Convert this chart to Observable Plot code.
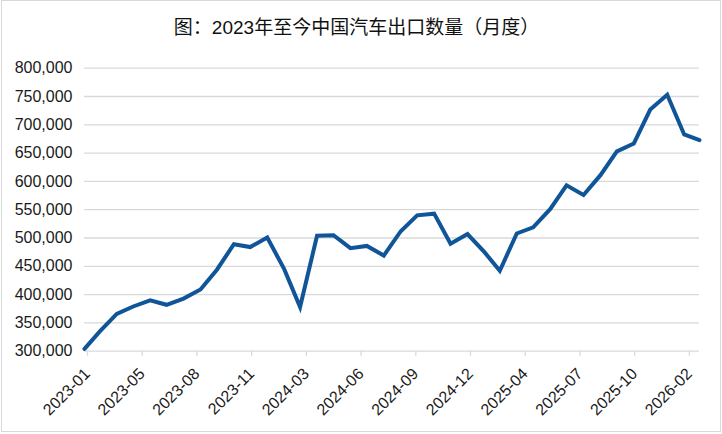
<!DOCTYPE html>
<html>
<head>
<meta charset="utf-8">
<script src="https://cdn.jsdelivr.net/npm/d3@7"></script>
<script src="https://cdn.jsdelivr.net/npm/@observablehq/plot@0.6"></script>
<style>
  html, body { margin: 0; padding: 0; background: #fff; }
  #wrap { position: relative; width: 722px; height: 434px; overflow: hidden; background: #fff; }
  #frame { position: absolute; left: 0.5px; top: 0px; width: 720.5px; height: 431.5px; box-sizing: border-box; border: 1.5px solid #d9d9d9; pointer-events: none; }
  #title { position: absolute; left: 0; width: 713px; top: 18px; text-align: center; font-family: "Liberation Sans", "Noto Sans CJK SC", sans-serif; font-size: 19px; line-height: 20px; color: #111; }
  #chart { position: absolute; left: 0; top: 0; }
</style>
</head>
<body>
<div id="wrap">
  <div id="chart"></div>
  <div id="frame"></div>
  <div id="title">图：2023年至今中国汽车出口数量（月度）</div>
</div>
<script>
const months = [
  "2023-01","2023-02","2023-03","2023-04","2023-05","2023-06","2023-07","2023-08","2023-09","2023-10","2023-11","2023-12",
  "2024-01","2024-02","2024-03","2024-04","2024-05","2024-06","2024-07","2024-08","2024-09","2024-10","2024-11","2024-12",
  "2025-01","2025-02","2025-03","2025-04","2025-05","2025-06","2025-07","2025-08","2025-09","2025-10","2025-11","2025-12",
  "2026-01","2026-02"
];
const exportsVol = [
  304000, 335000, 366000, 379000, 390000, 382000, 393000, 409000, 444000, 489000, 484000, 501000,
  445000, 378000, 504000, 505000, 482000, 486000, 469000, 512000, 540000, 543000, 490000, 507000,
  475000, 442000, 508000, 519000, 551000, 593000, 576000, 611000, 653000, 667000, 727000, 753000,
  683000, 673000
];
const yTicks = [300000, 350000, 400000, 450000, 500000, 550000, 600000, 650000, 700000, 750000, 800000];
const xTickDates = ["2023-01-31","2023-05-11","2023-08-19","2023-11-27","2024-03-06","2024-06-14","2024-09-22","2024-12-31","2025-04-10","2025-07-19","2025-10-27","2026-02-04"];

const parseDay = d3.utcParse("%Y-%m-%d");
const parseMonth = d3.utcParse("%Y-%m");
const endOfMonth = m => d3.utcDay.offset(d3.utcMonth.offset(parseMonth(m), 1), -1);

const data = months.map((m, i) => ({date: endOfMonth(m), value: exportsVol[i]}));
const tickDates = xTickDates.map(parseDay);

const chart = Plot.plot({
  width: 722,
  height: 434,
  marginLeft: 84,
  marginRight: 23,
  marginTop: 67.7,
  marginBottom: 83.3,
  style: {fontFamily: "'Liberation Sans', Arial, sans-serif", fontSize: "16px", background: "transparent", color: "#1a1a1a"},
  x: {type: "utc", domain: [data[0].date, data[data.length - 1].date]},
  y: {domain: [300000, 800000]},
  marks: [
    Plot.gridY(yTicks, {stroke: "#d9d9d9", strokeOpacity: 1, strokeWidth: 1.3}),
    Plot.axisY(yTicks, {tickSize: 0, tickPadding: 12, tickFormat: d3.format(","), fontSize: 16, fill: "#1a1a1a", label: null}),
    Plot.axisX(tickDates, {tickSize: 5, stroke: "#d9d9d9", strokeWidth: 1.3, tickRotate: -45, tickPadding: 15, dx: 3, tickFormat: d3.utcFormat("%Y-%m"), fontSize: 16, fill: "#1a1a1a", label: null}),
    Plot.lineY(data, {x: "date", y: "value", stroke: "#0f5597", strokeWidth: 4, strokeLinejoin: "miter", strokeMiterlimit: 4})
  ]
});
document.getElementById("chart").appendChild(chart);
</script>
</body>
</html>
